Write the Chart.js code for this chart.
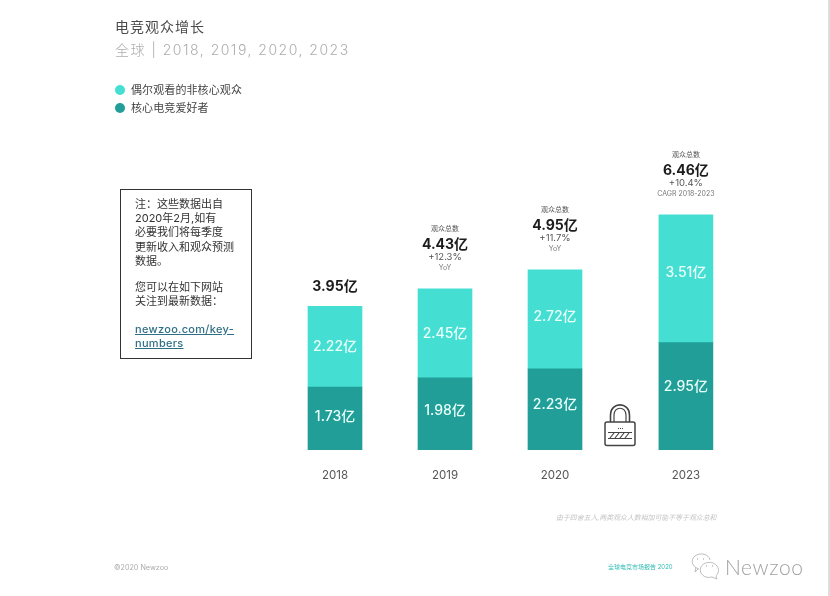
<!DOCTYPE html>
<html>
<head>
<meta charset="utf-8">
<script src="https://cdn.jsdelivr.net/npm/chart.js@4"></script>
<style>
  html, body { margin: 0; padding: 0; background: #fff; }
  body { width: 830px; height: 596px; position: relative; overflow: hidden;
         font-family: Inter, "Noto Sans CJK SC", sans-serif; }
  #chart { position: absolute; left: 0; top: 0; }
  #edge { position: absolute; left: 828px; top: 0; width: 2px; height: 596px; background: #dedede; }
  .txt { position: absolute; white-space: nowrap; line-height: 1; }
  #title { left: 115px; top: 20px; font-size: 14px; letter-spacing: 1px; color: #4a4a4a; }
  #subtitle { left: 115px; top: 43px; font-size: 14px; letter-spacing: 1.5px; color: #adadad; font-weight: 300; }
  #legend { position: absolute; left: 115px; top: 81px; }
  #legend div { height: 18px; line-height: 18px; font-size: 11px; letter-spacing: .1px; color: #444; white-space: nowrap; }
  #legend i { display: inline-block; width: 10px; height: 10px; border-radius: 50%; margin-right: 6px; vertical-align: -1px; }
  #note { position: absolute; left: 120px; top: 189px; width: 130px; height: 168px; border: 1px solid #333;
          box-sizing: content-box; font-size: 11px; line-height: 14.2px; color: #333; padding: 0; }
  #note p { position: absolute; left: 14px; margin: 0; white-space: nowrap; }
  #note a { color: #2e6f86; font-weight: 500; text-decoration: underline; letter-spacing: .3px; }
  #source { left: 556px; top: 515px; font-size: 6.9px; font-style: italic; color: #c4c4c4; }
  #copy { left: 114px; top: 564px; font-size: 7.2px; color: #aaa; }
  #report { left: 608px; top: 564px; font-size: 6px; color: #2fbdb2; }
  #brand { left: 725px; top: 556px; font-family: Lato, sans-serif; font-size: 21px; font-weight: 300; letter-spacing: .6px; color: #a0a0a0; }
  svg { position: absolute; overflow: visible; }
</style>
</head>
<body>
<canvas id="chart" width="830" height="596"></canvas>
<div id="edge"></div>

<div class="txt" id="title">电竞观众增长</div>
<div class="txt" id="subtitle">全球 | 2018, 2019, 2020, 2023</div>
<div id="legend"></div>

<div id="note">
  <p style="top:7px">注&#xFF1A;这些数据出自<br>2020年2月,如有<br>必要我们将每季度<br>更新收入和观众预测<br>数据。</p>
  <p style="top:90px">您可以在如下网站<br>关注到最新数据&#xFF1A;</p>
  <p style="top:132px"><a>newzoo.com/key-<br>numbers</a></p>
</div>

<!-- 锁 아이콘 -->
<svg style="left:604px;top:403px" width="32" height="44" viewBox="0 0 32 44" fill="none" stroke="#444">
  <path d="M6.5 19 V12 C6.5 -1.5 25.5 -1.5 25.5 12 V19" stroke-width="1.6"/>
  <path d="M10 19 V12 C10 3 22 3 22 12 V19" stroke-width="1.2"/>
  <rect x="1" y="19" width="30" height="23.5" rx="2" stroke-width="1.5"/>
  <path d="M14 25.5 h1 M16 25.5 h1 M18 25.5 h1" stroke-width="1"/>
  <path d="M4 29.5 H28 M4 35.5 H28" stroke-width="1"/>
  <path d="M6 35 L10 30 M11 35 L15 30 M16 35 L20 30 M21 35 L25 30" stroke-width="1.2"/>
</svg>

<div class="txt" id="source">由于四舍五入,两类观众人数相加可能不等于观众总和</div>
<div class="txt" id="copy">©2020 Newzoo</div>
<div class="txt" id="report">全球电竞市场报告 2020</div>

<svg style="left:690px;top:552px" width="32" height="28" viewBox="0 0 32 28" fill="none" stroke="#bdbdbd" stroke-width="1">
  <path d="M9 17 C2 15 0 8 5 4 C10 0 19 2 20 8"/>
  <path d="M8 17 L5 20 L6 15"/>
  <path d="M22 25 C15 27 9 22 10.5 16 C12 10 23 8 27 14 C30 18 28 22 26 24 L27 27 Z"/>
  <path d="M7 7 h1 M13 7 h1 M16 14 h1 M22 14 h1" stroke-width="1.6"/>
</svg>
<div class="txt" id="brand">Newzoo</div>

<script>
const years = ['2018', '2019', '2020', '2023'];
const coreFans = [1.73, 1.98, 2.23, 2.95];
const casualViewers = [2.22, 2.45, 2.72, 3.51];
const totals = [3.95, 4.43, 4.95, 6.46];
const growthRates = ['', '+12.3%', '+11.7%', '+10.4%'];
const growthNotes = ['', 'YoY', 'YoY', 'CAGR 2018-2023'];
const totalCaption = '观众总数';
const unit = '亿';
const seriesNames = ['偶尔观看的非核心观众', '核心电竞爱好者'];

const LIGHT = '#44dfd2';
const DARK = '#209e97';
const FONT = 'Inter, "Noto Sans CJK SC", sans-serif';

// 2020 → 2023 사이 간격이 더 넓어서 category 대신 linear 축 사용
const slots = [0, 1, 2, 3.19];

// 원본의 막대 안 라벨은 정중앙이 아니라 조금씩 위로 올라가 있음 (px)
const labelLift = [[2, 3, 5, 10], [0, 0, 3, 6]];

function points(values) {
    return values.map((v, i) => ({ x: slots[i], y: v }));
}

const barLabels = {
    id: 'barLabels',
    afterDatasetsDraw(chart) {
        const ctx = chart.ctx;
        const { x: xScale, y: yScale } = chart.scales;
        ctx.save();
        ctx.textAlign = 'center';
        ctx.textBaseline = 'middle';

        // 막대 안쪽 값
        ctx.fillStyle = '#eafffb';
        ctx.font = '500 14px ' + FONT;
        chart.data.datasets.forEach((ds, d) => {
            chart.getDatasetMeta(d).data.forEach((bar, i) => {
                ctx.fillText(ds.data[i].y.toFixed(2) + unit, bar.x, (bar.y + bar.base) / 2 - labelLift[d][i]);
            });
        });

        // 막대 위쪽 합계
        totals.forEach((total, i) => {
            const cx = xScale.getPixelForValue(slots[i]);
            const top = yScale.getPixelForValue(total);
            ctx.fillStyle = '#1c1c1c';
            ctx.font = '700 14px ' + FONT;
            if (!growthRates[i]) {
                ctx.fillText(total.toFixed(2) + unit, cx, top - 19);
                return;
            }
            ctx.fillText(total.toFixed(2) + unit, cx, top - 44);
            ctx.fillStyle = '#555';
            ctx.font = '400 7px ' + FONT;
            ctx.fillText(totalCaption, cx, top - 60);
            ctx.font = '400 9.5px ' + FONT;
            ctx.fillText(growthRates[i], cx, top - 32);
            ctx.fillStyle = '#777';
            ctx.font = '400 7px ' + FONT;
            ctx.fillText(growthNotes[i], cx, top - 21);
        });
        ctx.restore();
    }
};

const myChart = new Chart(document.getElementById('chart'), {
    type: 'bar',
    data: {
        datasets: [
            { label: seriesNames[1], data: points(coreFans), backgroundColor: DARK, barThickness: 54 },
            { label: seriesNames[0], data: points(casualViewers), backgroundColor: LIGHT, barThickness: 54 }
        ]
    },
    options: {
        responsive: false,
        animation: false,
        layout: { padding: { left: 225, right: 55, top: 86, bottom: 0 } },
        plugins: { legend: { display: false }, tooltip: { enabled: false } },
        scales: {
            x: {
                type: 'linear',
                stacked: true,
                offset: false,
                min: -1,
                max: 4,
                grid: { display: false },
                border: { display: false },
                afterBuildTicks(scale) {
                    scale.ticks = slots.map(v => ({ value: v }));
                },
                afterFit(scale) {
                    scale.height = 146;
                },
                ticks: {
                    autoSkip: false,
                    maxRotation: 0,
                    padding: 11,
                    color: '#555',
                    font: { family: FONT, size: 11.5 },
                    callback: (value, index) => years[index]
                }
            },
            y: {
                display: false,
                stacked: true,
                min: 0,
                max: 10
            }
        }
    },
    plugins: [barLabels]
});

// 범례는 데이터셋 색상에서 가져와서 HTML 로 그림
const legendEl = document.getElementById('legend');
myChart.data.datasets.slice().reverse().forEach(ds => {
    const row = document.createElement('div');
    const dot = document.createElement('i');
    dot.style.background = ds.backgroundColor;
    row.appendChild(dot);
    row.appendChild(document.createTextNode(ds.label));
    legendEl.appendChild(row);
});
</script>
</body>
</html>
